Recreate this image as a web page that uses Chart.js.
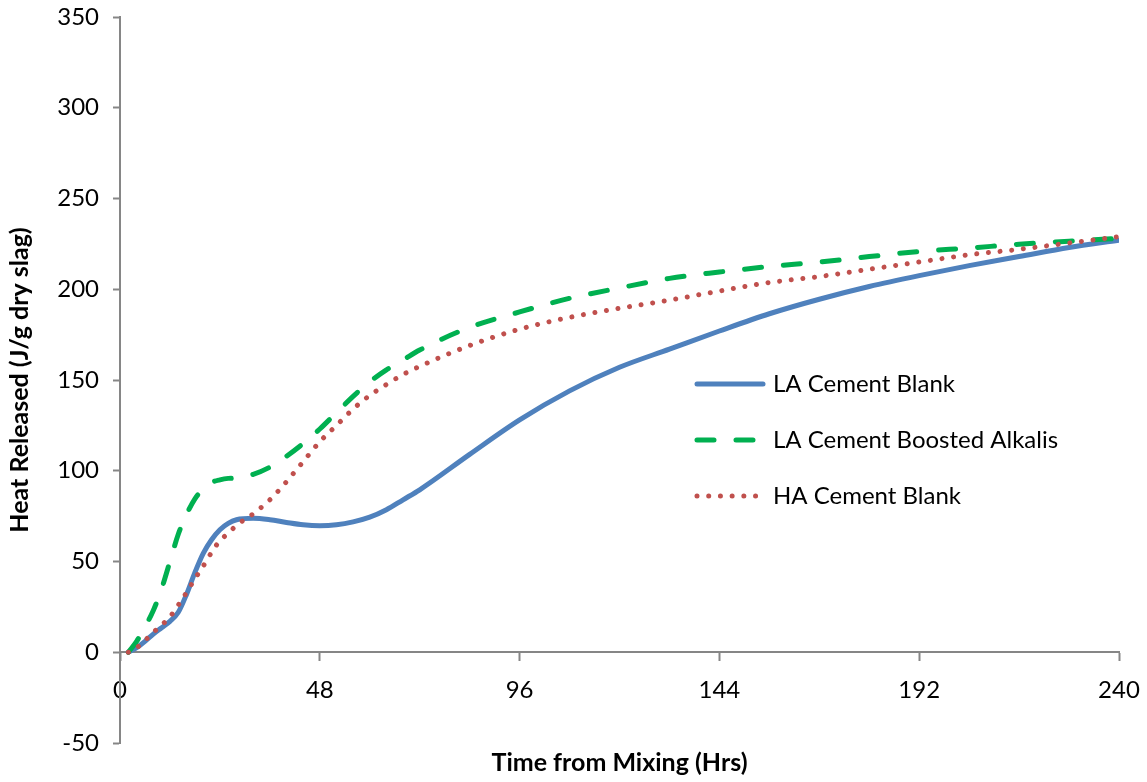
<!DOCTYPE html>
<html>
<head>
<meta charset="utf-8">
<title>Heat Released</title>
<script src="https://cdn.jsdelivr.net/npm/chart.js@4.4.0/dist/chart.umd.min.js"></script>
<style>
  body { margin: 0; background: #fff; }
  #wrap { width: 1147px; height: 782px; }
</style>
</head>
<body>
<div id="wrap"><canvas id="heatChart"></canvas></div>
<script>
// Sample times (hours from mixing)
const hours = [2, 4, 6, 8, 10, 12, 14, 16, 18, 20, 22, 24, 26, 28, 32, 36, 40, 44, 48, 52, 56, 60, 64, 68, 72,
               84, 96, 108, 120, 132, 144, 156, 168, 180, 192, 204, 216, 228, 240];

// Heat released (J/g dry slag)
const laBlank = [0, 2.5, 6, 10, 13.5, 17, 22, 32, 44, 54.5, 62, 67.5, 71, 73, 73.8, 73, 71.5, 70.2, 69.7, 70.2, 71.8, 74.4, 78.5, 84, 89.5,
                 109, 128, 144, 157, 167, 177, 186.5, 194.5, 201.5, 207.5, 213, 218, 223, 227];
const laBoosted = [0, 6, 14, 23, 35, 50, 65, 76, 84.5, 90, 93.5, 95, 95.8, 96, 98, 102, 108, 115, 123, 132, 141, 149, 155.6, 161, 166.5,
                   179, 187.5, 195, 200.7, 206, 209.5, 212.5, 215, 218, 220.8, 222.7, 224.8, 226.5, 228];
const haBlank = [0, 2.5, 6.5, 11, 15, 19.5, 26, 33, 40.5, 47.5, 55, 61.5, 65.5, 70, 76.3, 84, 94, 105, 116, 125, 134, 141.5, 147.5, 153, 157.5,
                 169, 178, 184.5, 189.5, 194, 199, 203.7, 207, 211, 215, 219, 222, 225.5, 229];

const seriesNames = ['LA Cement Blank', 'LA Cement Boosted Alkalis', 'HA Cement Blank'];

const axisGray = '#868686';
const fontFamily = 'Lato, "Open Sans", sans-serif';

function toPoints(values) {
    return hours.map((h, i) => ({ x: h, y: values[i] }));
}

// Stop the axes from pushing the plot area inward for their end labels
function noEdgePadding(axis) {
    axis.paddingLeft = 0;
    axis.paddingRight = 0;
    axis.paddingTop = 0;
    axis.paddingBottom = 0;
}

// Legend drawn inside the plot, Excel style
const insideLegend = {
    id: 'insideLegend',
    afterDatasetsDraw(chart) {
        const ctx = chart.ctx;
        let y = 384;
        ctx.save();
        chart.data.datasets.forEach(ds => {
            ctx.beginPath();
            ctx.strokeStyle = ds.borderColor;
            ctx.lineWidth = ds.borderWidth;
            ctx.lineCap = ds.borderCapStyle || 'butt';
            ctx.setLineDash(ds.borderDash || []);
            ctx.moveTo(697, y);
            ctx.lineTo(763, y);
            ctx.stroke();
            ctx.setLineDash([]);
            ctx.fillStyle = '#000';
            ctx.font = '24px ' + fontFamily;
            ctx.textBaseline = 'middle';
            ctx.fillText(ds.label, 773, y);
            y += 56;
        });
        ctx.restore();
    }
};

const ctx = document.getElementById('heatChart').getContext('2d');
const heatChart = new Chart(ctx, {
    type: 'line',
    data: {
        datasets: [{
            label: seriesNames[0],
            data: toPoints(laBlank),
            borderColor: '#4F81BD',
            borderWidth: 5,
            borderCapStyle: 'round',
            order: 2
        }, {
            label: seriesNames[1],
            data: toPoints(laBoosted),
            borderColor: '#00B050',
            borderWidth: 5,
            borderCapStyle: 'round',
            borderDash: [17, 22],
            order: 1
        }, {
            label: seriesNames[2],
            data: toPoints(haBlank),
            borderColor: '#C0504D',
            borderWidth: 5,
            borderCapStyle: 'round',
            borderDash: [0.01, 11.7],
            order: 0
        }]
    },
    options: {
        responsive: true,
        maintainAspectRatio: false,
        animation: false,
        cubicInterpolationMode: 'monotone',
        pointRadius: 0,
        pointHoverRadius: 0,
        layout: {
            padding: { top: 17, right: 28, left: 0, bottom: 0 }
        },
        scales: {
            x: {
                type: 'linear',
                position: { y: 0 },
                min: 0,
                max: 240,
                ticks: {
                    stepSize: 48,
                    color: '#000',
                    padding: 16,
                    maxRotation: 0,
                    font: { family: fontFamily, size: 24 }
                },
                grid: {
                    drawOnChartArea: false,
                    tickLength: 8,
                    tickColor: axisGray,
                    tickWidth: 2
                },
                border: { color: axisGray, width: 2 },
                afterFit: noEdgePadding
            },
            xTitle: {
                type: 'linear',
                position: 'bottom',
                min: 0,
                max: 240,
                ticks: { display: false },
                grid: { display: false, drawTicks: false },
                border: { display: false },
                title: {
                    display: true,
                    text: 'Time from Mixing (Hrs)',
                    color: '#000',
                    font: { family: fontFamily, size: 25, weight: 'bold' },
                    padding: { top: 5, bottom: 4 }
                },
                afterFit: noEdgePadding
            },
            y: {
                position: 'left',
                min: -50,
                max: 350,
                ticks: {
                    stepSize: 50,
                    color: '#000',
                    padding: 14,
                    font: { family: fontFamily, size: 24 }
                },
                grid: {
                    drawOnChartArea: false,
                    tickLength: 7,
                    tickColor: axisGray,
                    tickWidth: 2
                },
                border: { color: axisGray, width: 2 },
                title: {
                    display: true,
                    text: 'Heat Released (J/g dry slag)',
                    color: '#000',
                    font: { family: fontFamily, size: 25, weight: 'bold' },
                    padding: { top: 5, bottom: 4 }
                },
                afterFit(axis) {
                    noEdgePadding(axis);
                    axis.width = 120;
                }
            }
        },
        plugins: {
            legend: { display: false },
            tooltip: { enabled: false }
        }
    },
    plugins: [insideLegend]
});
</script>
</body>
</html>
